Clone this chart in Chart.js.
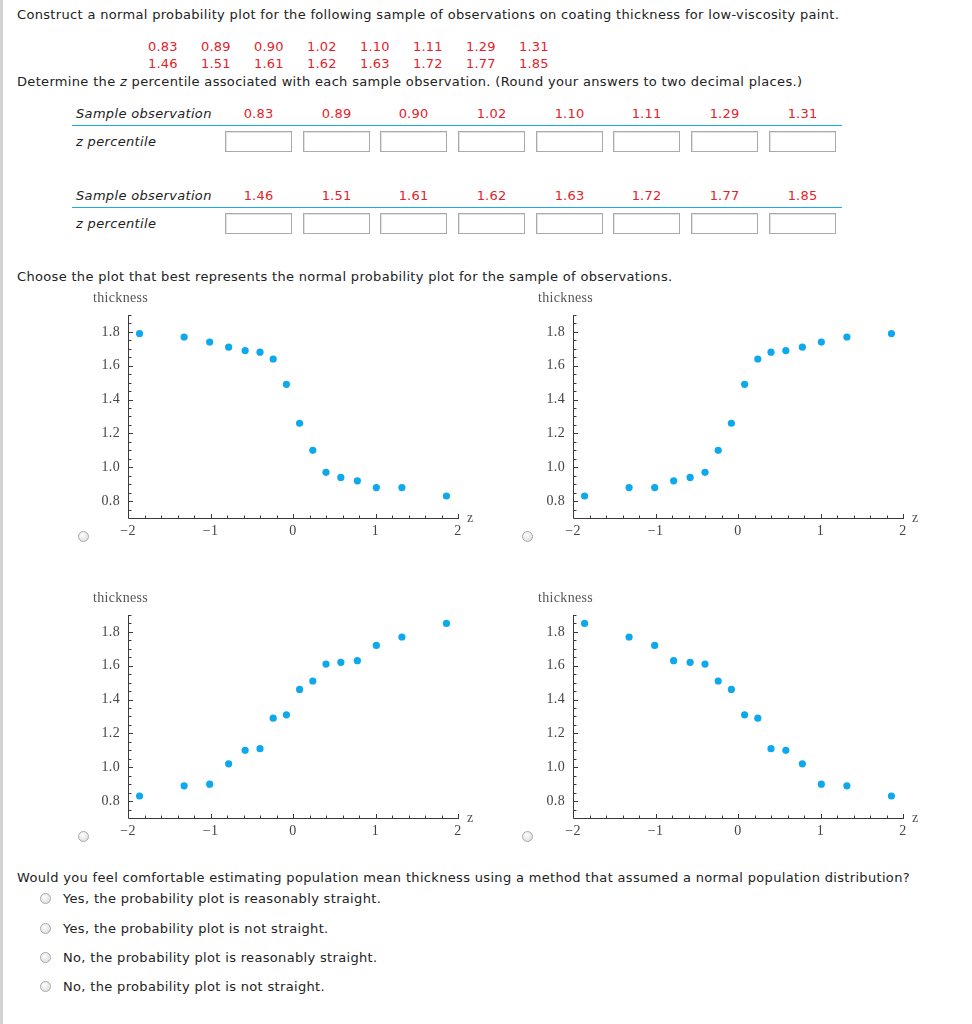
<!DOCTYPE html>
<html>
<head>
<meta charset="utf-8">
<script src="https://cdn.jsdelivr.net/npm/chart.js@4"></script>
<style>
  body { margin: 0; background: #fff; font-family: "DejaVu Sans", Verdana, sans-serif; font-size: 13px; letter-spacing: 0.33px; color: #222; }
  #page { position: relative; width: 972px; height: 1024px; overflow: hidden; }
  #edge { position: absolute; left: 0; top: 0; width: 3px; height: 1024px; background: #d2d2d2; }
  .t { position: absolute; white-space: nowrap; line-height: 16px; }
  .red { color: #e3222b; letter-spacing: 0.2px; }
  .num { display: inline-block; width: 53px; }
  .val { position: absolute; width: 67px; text-align: center; line-height: 16px; color: #e3222b; letter-spacing: 0.2px; }
  .box { position: absolute; width: 67px; height: 21px; box-sizing: border-box; border: 1px solid #aaa; box-shadow: inset 1px 1px 0 #e2e2e2; background: #fff; }
  .rule { position: absolute; left: 72px; width: 770px; height: 1px; background: #1aaaee; }
  .radio { position: absolute; width: 11px; height: 11px; box-sizing: border-box; border-radius: 50%; border: 1px solid #a9a9a9; background: radial-gradient(circle at 40% 35%, #fdfdfd, #d9d9d9); }
  .plot { position: absolute; }
</style>
</head>
<body>
<div id="page">
  <div id="edge"></div>

  <div class="t" style="left:17px; top:7px;">Construct a normal probability plot for the following sample of observations on coating thickness for low-viscosity paint.</div>
  <div class="t red" id="dataRow1" style="left:148px; top:39px;"></div>
  <div class="t red" id="dataRow2" style="left:148px; top:56px;"></div>
  <div class="t" style="left:17px; top:74px;">Determine the <i>z</i> percentile associated with each sample observation. (Round your answers to two decimal places.)</div>

  <div id="table"></div>

  <div class="t" style="left:17px; top:269px;">Choose the plot that best represents the normal probability plot for the sample of observations.</div>

  <canvas class="plot" id="plotA" width="420" height="260" style="left:60px; top:285px;"></canvas>
  <canvas class="plot" id="plotB" width="420" height="260" style="left:505px; top:285px;"></canvas>
  <canvas class="plot" id="plotC" width="420" height="260" style="left:60px; top:585px;"></canvas>
  <canvas class="plot" id="plotD" width="420" height="260" style="left:505px; top:585px;"></canvas>

  <div class="radio" style="left:78px; top:531px;"></div>
  <div class="radio" style="left:522px; top:531px;"></div>
  <div class="radio" style="left:78px; top:831px;"></div>
  <div class="radio" style="left:522px; top:831px;"></div>

  <div class="t" style="left:17px; top:870px;">Would you feel comfortable estimating population mean thickness using a method that assumed a normal population distribution?</div>
  <div class="radio" style="left:40px; top:893px;"></div>
  <div class="t" style="left:63px; top:891px;">Yes, the probability plot is reasonably straight.</div>
  <div class="radio" style="left:40px; top:923px;"></div>
  <div class="t" style="left:63px; top:921px;">Yes, the probability plot is not straight.</div>
  <div class="radio" style="left:40px; top:952px;"></div>
  <div class="t" style="left:63px; top:950px;">No, the probability plot is reasonably straight.</div>
  <div class="radio" style="left:40px; top:981px;"></div>
  <div class="t" style="left:63px; top:979px;">No, the probability plot is not straight.</div>
</div>

<script>
// sample observations (sorted) and their z percentiles
const thickness = [0.83, 0.89, 0.90, 1.02, 1.10, 1.11, 1.29, 1.31, 1.46, 1.51, 1.61, 1.62, 1.63, 1.72, 1.77, 1.85];
const zScores = [-1.86, -1.32, -1.01, -0.78, -0.58, -0.40, -0.24, -0.08, 0.08, 0.24, 0.40, 0.58, 0.78, 1.01, 1.32, 1.86];

// y values of the four candidate plots, read left to right
const plotA = [1.79, 1.77, 1.74, 1.71, 1.69, 1.68, 1.64, 1.49, 1.26, 1.10, 0.97, 0.94, 0.92, 0.88, 0.88, 0.83];
const plotB = [0.83, 0.88, 0.88, 0.92, 0.94, 0.97, 1.10, 1.26, 1.49, 1.64, 1.68, 1.69, 1.71, 1.74, 1.77, 1.79];
const plotC = [0.83, 0.89, 0.90, 1.02, 1.10, 1.11, 1.29, 1.31, 1.46, 1.51, 1.61, 1.62, 1.63, 1.72, 1.77, 1.85];
const plotD = [1.85, 1.77, 1.72, 1.63, 1.62, 1.61, 1.51, 1.46, 1.31, 1.29, 1.11, 1.10, 1.02, 0.90, 0.89, 0.83];

const xTickValues = [-2, -1, 0, 1, 2];
const yTickValues = [0.8, 1.0, 1.2, 1.4, 1.6, 1.8];

// data rows at the top
const firstHalf = thickness.slice(0, 8);
const secondHalf = thickness.slice(8);
document.getElementById("dataRow1").innerHTML = firstHalf.map(v => `<span class="num">${v.toFixed(2)}</span>`).join("");
document.getElementById("dataRow2").innerHTML = secondHalf.map(v => `<span class="num">${v.toFixed(2)}</span>`).join("");

// the two answer tables
function buildTable(values, top) {
  let html = "";
  html += `<div class="t" style="left:76px; top:${top}px;"><i>Sample observation</i></div>`;
  values.forEach((v, i) => {
    const left = Math.round(225 + i * 77.66);
    html += `<div class="val" style="left:${left}px; top:${top}px;">${v.toFixed(2)}</div>`;
    html += `<div class="box" style="left:${left}px; top:${top + 25}px;"></div>`;
  });
  html += `<div class="rule" style="top:${top + 19}px;"></div>`;
  html += `<div class="t" style="left:76px; top:${top + 28}px;"><i>z percentile</i></div>`;
  return html;
}
document.getElementById("table").innerHTML = buildTable(firstHalf, 106) + buildTable(secondHalf, 188);

// Mathematica-like axes: inward ticks, axis labels
const axisDecor = {
  id: "axisDecor",
  afterDraw(chart) {
    const { ctx, chartArea: a, scales: { x, y } } = chart;
    ctx.save();
    ctx.strokeStyle = "#3a3a3a";
    ctx.lineWidth = 1;
    ctx.beginPath();
    ctx.moveTo(a.left + 0.5, a.top);
    ctx.lineTo(a.left + 0.5, a.bottom + 0.5);
    ctx.lineTo(a.right + 1, a.bottom + 0.5);
    for (let i = 0; i <= 20; i++) {
      const px = Math.round(x.getPixelForValue(-2 + i * 0.2)) + 0.5;
      const len = i % 5 === 0 ? 4 : 2.5;
      ctx.moveTo(px, a.bottom);
      ctx.lineTo(px, a.bottom - len);
    }
    for (let i = 0; i <= 24; i++) {
      const py = Math.round(y.getPixelForValue(0.7 + i * 0.05)) + 0.5;
      const len = i % 4 === 2 ? 4 : 2.5;
      ctx.moveTo(a.left + 1, py);
      ctx.lineTo(a.left + 1 + len, py);
    }
    ctx.stroke();

    ctx.fillStyle = "#555";
    ctx.font = '14px "Liberation Serif", serif';
    ctx.textBaseline = "middle";
    ctx.fillText("thickness", a.left - 35, a.top - 17);
    ctx.fillText("z", a.right + 9, a.bottom);
    ctx.restore();
  }
};

function makePlot(canvasId, values) {
  const ctx = document.getElementById(canvasId).getContext("2d");
  return new Chart(ctx, {
    type: "scatter",
    data: {
      datasets: [{
        data: zScores.map((z, i) => ({ x: z, y: values[i] })),
        backgroundColor: "#0ea8ec",
        borderWidth: 0,
        pointRadius: 3.6,
        pointHoverRadius: 3.6,
      }],
    },
    options: {
      responsive: false,
      animation: false,
      devicePixelRatio: 1,
      layout: { padding: { top: 30, right: 22, left: 0, bottom: 0 } },
      plugins: { legend: { display: false }, tooltip: { enabled: false } },
      scales: {
        x: {
          type: "linear",
          min: -2,
          max: 2,
          grid: { display: false, drawTicks: false },
          border: { display: false },
          afterBuildTicks: (s) => { s.ticks = xTickValues.map(v => ({ value: v })); },
          afterFit: (s) => { s.height = 27; },
          ticks: {
            padding: 5,
            color: "#444",
            autoSkip: false,
            maxRotation: 0,
            font: { family: '"Liberation Serif", serif', size: 14 },
            callback: (v) => String(v).replace("-", "\u2212"),
          },
        },
        y: {
          type: "linear",
          min: 0.7,
          max: 1.9,
          grid: { display: false, drawTicks: false },
          border: { display: false },
          afterBuildTicks: (s) => { s.ticks = yTickValues.map(v => ({ value: v })); },
          afterFit: (s) => { s.width = 68; },
          ticks: {
            padding: 8,
            color: "#444",
            autoSkip: false,
            font: { family: '"Liberation Serif", serif', size: 14 },
            callback: (v) => Number(v).toFixed(1),
          },
        },
      },
    },
    plugins: [axisDecor],
  });
}

makePlot("plotA", plotA);
makePlot("plotB", plotB);
makePlot("plotC", plotC);
makePlot("plotD", plotD);
</script>
</body>
</html>
